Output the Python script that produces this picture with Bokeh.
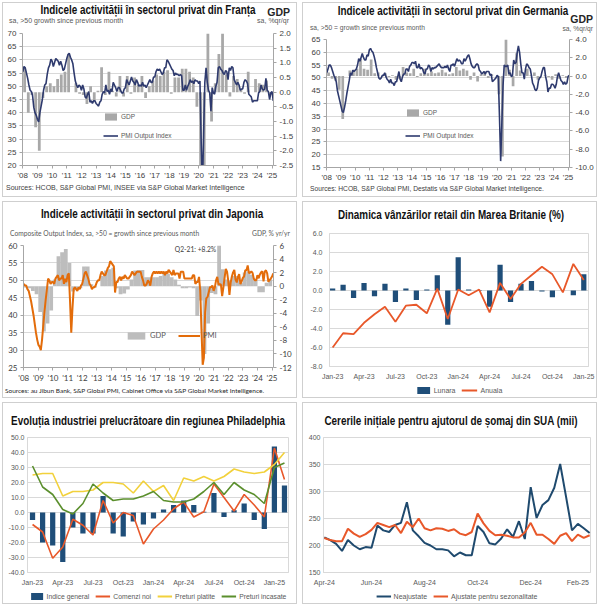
import html
import pandas as pd
from bokeh.plotting import figure
from bokeh.models import (Range1d, LinearAxis, FixedTicker, SingleIntervalTicker, Label,
                          Legend, LegendItem, NumeralTickFormatter, DatetimeTickFormatter, Div)
from bokeh.layouts import column, row
from bokeh.embed import file_html
from bokeh.resources import INLINE

# ---------------------------------------------------------------- data
year_ticks = list(range(2008, 2026))
year_labels = ["'08", "'09", "'10", "'11", "'12", "'13", "'14", "'15", "'16",
               "'17", "'18", "'19", "'20", "'21", "'22", "'23", "'24", "'25"]

# France: PMI output index (monthly, Jan-2008 .. Feb-2025), GDP q/q % (quarterly)
fr_pmi = [
    55.5, 57.5, 57.0, 55.0, 53.0, 50.5, 48.5, 48.0, 46.5, 42.0, 40.0, 39.0,
    37.5, 36.5, 40.0, 42.5, 45.0, 48.5, 50.5, 51.0, 54.5, 57.0, 58.0, 60.3,
    59.5, 57.5, 59.0, 60.5, 60.0, 59.5, 58.0, 59.5, 58.0, 56.0, 56.5, 58.5,
    60.5, 62.0, 62.5, 61.0, 60.0, 58.5, 55.0, 52.0, 50.5, 49.5, 50.5, 50.0,
    48.5, 50.5, 49.0, 46.0, 45.5, 47.0, 48.0, 44.0, 44.5, 43.5, 44.5, 44.5,
    43.5, 43.0, 42.5, 44.0, 44.5, 47.0, 48.0, 47.5, 50.5, 48.0, 48.5, 47.0,
    49.0, 48.0, 51.5, 50.5, 49.5, 48.0, 49.5, 49.5, 48.5, 47.5, 47.5, 49.0,
    49.5, 52.5, 51.5, 50.5, 52.0, 53.5, 52.0, 51.5, 50.5, 52.5, 51.5, 50.0,
    50.5, 50.0, 51.5, 50.0, 50.5, 49.5, 50.5, 51.5, 52.5, 51.5, 51.5, 53.5,
    53.5, 55.5, 56.5, 56.0, 56.5, 55.5, 54.5, 55.0, 57.0, 57.0, 60.0, 59.5,
    58.5, 57.5, 56.5, 56.0, 54.0, 55.0, 54.5, 54.5, 54.0, 54.5, 54.0, 48.5,
    48.5, 50.5, 48.5, 50.0, 51.0, 52.5, 51.5, 52.0, 51.0, 52.5, 52.0, 52.0,
    51.0, 52.0, 29.0, 11.1, 32.0, 51.5, 57.0, 51.5, 48.5, 47.5, 40.6, 49.5,
    47.5, 47.0, 50.0, 51.5, 57.0, 57.5, 56.5, 56.0, 55.0, 54.5, 56.0, 55.5,
    52.5, 57.0, 56.0, 57.5, 57.0, 52.5, 51.5, 50.5, 51.5, 50.5, 48.5, 49.0,
    49.0, 51.5, 52.5, 52.0, 51.0, 47.0, 46.5, 46.0, 44.0, 44.5, 44.5, 44.5,
    44.5, 47.5, 48.0, 50.5, 49.0, 48.5, 49.0, 53.0, 48.5, 48.0, 45.0, 47.5,
    48.0, 44.5]
fr_gdp = [
    0.85, -0.7, -0.1, -1.2, -2.0, -0.2, 0.2, 0.3, 0.2, 0.45, 0.6, 0.7,
    1.3, 0.0, 0.3, -0.05, -0.1, -0.4, 0.2, -0.3, 0.05, 0.85, -0.1, 0.7,
    0.05, -0.15, 0.55, -0.15, 0.55, -0.05, 0.5, 0.25, 0.55, -0.2, 0.2, 0.4,
    0.6, 0.55, 0.7, 0.75, -0.05, 0.5, 0.5, 0.8, 0.8, 0.7, 0.5, -0.5,
    -5.4, -13.2, 18.5, -1.0, 0.3, 1.3, 2.6, 0.6, -0.15, 0.55, 0.45, 0.1,
    -0.05, 0.7, 0.0, 0.45, 0.3, 0.25, 0.4, -0.1]

# Germany
de_pmi = [
    52.0, 53.5, 55.0, 55.0, 54.0, 52.5, 51.0, 50.0, 48.5, 45.0, 43.0, 41.0,
    39.0, 37.0, 36.5, 38.5, 41.0, 44.0, 46.5, 49.0, 52.0, 51.0, 53.0, 52.5,
    53.0, 53.5, 55.0, 57.5, 56.5, 58.0, 59.5, 58.0, 57.0, 57.0, 59.0, 58.5,
    61.0, 61.5, 60.5, 60.0, 58.5, 56.5, 54.0, 52.0, 50.0, 49.5, 50.0, 51.0,
    51.0, 52.0, 50.5, 49.5, 49.0, 48.0, 49.5, 48.0, 48.0, 47.0, 48.5, 48.5,
    50.5, 52.5, 49.5, 48.5, 50.5, 51.5, 51.5, 53.5, 53.5, 52.5, 54.5, 55.0,
    56.0, 56.0, 55.5, 56.5, 54.0, 54.0, 55.5, 53.5, 54.0, 53.5, 52.0, 51.5,
    53.5, 53.5, 55.0, 54.5, 52.5, 54.0, 53.5, 54.0, 54.0, 54.5, 55.0, 55.5,
    54.5, 54.0, 54.0, 54.0, 54.5, 54.0, 55.0, 53.5, 52.5, 55.0, 55.0, 55.5,
    54.5, 56.0, 57.5, 56.5, 57.0, 56.5, 55.5, 55.5, 57.5, 56.5, 57.5, 58.5,
    59.0, 57.5, 55.5, 54.5, 54.0, 54.0, 55.0, 55.5, 55.0, 53.0, 52.5, 51.5,
    52.0, 52.5, 51.5, 52.5, 52.5, 52.5, 51.0, 51.5, 48.5, 49.0, 49.5, 50.0,
    51.0, 50.5, 35.0, 17.5, 32.0, 47.0, 55.0, 54.5, 54.5, 55.0, 51.5, 52.0,
    50.5, 51.0, 57.0, 55.5, 56.0, 60.0, 62.5, 60.0, 55.5, 52.0, 52.0, 49.5,
    53.5, 55.5, 55.0, 54.0, 53.5, 51.0, 48.0, 47.0, 45.5, 45.0, 46.0, 49.0,
    50.0, 50.5, 52.5, 54.0, 54.0, 50.5, 48.5, 44.5, 46.0, 46.0, 47.5, 47.5,
    47.0, 46.0, 47.5, 50.5, 52.0, 50.5, 49.0, 48.5, 47.5, 48.5, 47.5, 48.0,
    50.5, 51.0]
de_gdp = [
    0.4, -0.3, -0.5, -1.5, -4.7, 0.0, 0.6, 0.7, 0.8, 1.9, 0.8, 0.7,
    1.8, 0.3, 0.4, 0.0, 0.3, -0.1, 0.1, -0.4, -0.3, 1.0, 0.4, 0.3,
    0.8, -0.1, 0.3, 0.8, 0.3, 0.5, 0.3, 0.4, 0.7, 0.4, 0.2, 0.3,
    1.0, 0.6, 0.8, 0.6, -0.4, 0.4, -0.6, 0.2, 0.5, -0.2, 0.2, 0.0,
    -2.0, -8.8, 8.5, 0.7, -1.1, 2.5, 0.6, 0.0, 0.8, 0.1, 0.4, -0.4,
    0.0, 0.1, -0.1, -0.4, 0.2, -0.3, 0.1, -0.2]

# Japan
jp_pmi = [
    49.0, 48.5, 48.5, 47.5, 47.0, 45.5, 44.0, 42.0, 40.0, 37.5, 35.0, 33.0,
    31.5, 31.0, 30.0, 33.0, 37.0, 41.0, 44.5, 47.5, 50.5, 50.0, 49.0, 49.5,
    49.5, 49.0, 50.5, 51.0, 51.5, 50.0, 50.5, 50.5, 51.5, 49.0, 50.5, 49.5,
    51.5, 52.0, 44.0, 35.0, 42.0, 47.5, 48.0, 47.5, 47.0, 48.0, 47.5, 48.5,
    49.0, 50.5, 52.0, 52.5, 51.5, 50.5, 49.0, 48.5, 47.5, 48.0, 48.0, 48.5,
    49.5, 50.0, 50.0, 51.5, 52.5, 52.0, 51.5, 51.5, 52.5, 53.5, 54.0, 55.5,
    55.0, 54.5, 54.0, 46.5, 49.5, 49.5, 50.5, 51.0, 50.0, 51.0, 50.5, 51.5,
    51.0, 50.5, 50.5, 51.0, 51.5, 52.5, 52.0, 51.5, 52.0, 52.5, 52.5, 52.5,
    52.5, 51.0, 50.0, 48.5, 48.5, 49.0, 50.0, 49.5, 48.5, 51.0, 52.0, 52.5,
    52.0, 52.5, 52.0, 52.5, 52.0, 52.5, 52.0, 52.5, 51.5, 52.5, 52.0, 53.0,
    52.5, 52.0, 51.5, 53.0, 51.5, 52.0, 52.0, 52.0, 50.5, 52.5, 52.5, 52.5,
    50.5, 50.5, 50.5, 50.5, 50.5, 50.5, 50.5, 51.5, 51.5, 49.0, 49.5, 49.5,
    51.0, 47.0, 36.0, 25.8, 27.8, 40.8, 44.9, 45.2, 46.6, 48.0, 48.1, 48.5,
    47.0, 48.0, 50.0, 51.0, 48.8, 48.9, 48.8, 45.5, 47.9, 50.7, 53.3, 52.5,
    49.9, 45.8, 49.4, 51.1, 52.3, 53.0, 50.2, 49.4, 51.0, 51.8, 48.9, 49.7,
    50.7, 51.1, 52.9, 52.9, 54.3, 52.1, 52.2, 52.6, 52.1, 50.5, 50.0, 50.0,
    51.5, 50.6, 51.7, 52.3, 52.6, 49.7, 52.5, 52.9, 52.0, 49.6, 50.1, 50.5,
    51.1, 52.0]
jp_gdp = [
    -0.2, -0.3, -0.7, -1.2, -3.8, -6.7, -5.5, -3.6, 1.0, 4.4, 5.0, 5.5,
    3.4, -0.8, -0.5, -0.3, 2.9, 2.9, 0.3, -0.2, 0.0, 1.5, 2.3, 2.5,
    2.7, -0.3, -1.2, -1.1, -0.5, 1.0, 2.3, 2.4, 2.4, 1.3, 1.3, 1.3,
    1.3, 1.5, 1.8, 1.8, 1.3, 1.0, 0.2, -0.3, -0.3, -0.2, -0.3, -4.4,
    -2.1, -10.0, -5.5, -1.0, -1.2, 8.2, 2.5, 1.0, 0.8, 1.5, 1.5, 0.5,
    2.0, 2.2, 1.7, 1.0, -0.9, -0.9, 0.5, 1.0]

# UK retail sales (%)
uk_months = ["Jan-23", "Feb-23", "Mar-23", "Apr-23", "May-23", "Jun-23", "Jul-23",
             "Aug-23", "Sep-23", "Oct-23", "Nov-23", "Dec-23", "Jan-24", "Feb-24",
             "Mar-24", "Apr-24", "May-24", "Jun-24", "Jul-24", "Aug-24", "Sep-24",
             "Oct-24", "Nov-24", "Dec-24", "Jan-25"]
uk_lunara = [0.2, 0.6, -0.8, 0.8, -0.6, 0.7, -1.2, 0.2, -1.0, 0.1, 1.6, -3.6, 3.5,
             0.1, 0.05, -1.7, 2.7, -1.2, 0.7, 1.0, -0.1, -0.7, 0.0, -0.5, 1.7]
uk_anuala = [-6.0, -4.5, -4.6, -3.4, -2.5, -1.7, -3.3, -1.6, -1.5, -2.4, 0.2, -3.0, 0.1,
             -0.5, 0.1, -2.3, 0.8, -0.9, 0.7, 1.6, 2.5, 1.7, -0.2, 2.8, 1.1]

# Philadelphia Fed manufacturing survey
ph_months = ["Jan-23", "Feb-23", "Mar-23", "Apr-23", "May-23", "Jun-23", "Jul-23",
             "Aug-23", "Sep-23", "Oct-23", "Nov-23", "Dec-23", "Jan-24", "Feb-24",
             "Mar-24", "Apr-24", "May-24", "Jun-24", "Jul-24", "Aug-24", "Sep-24",
             "Oct-24", "Nov-24", "Dec-24", "Jan-25", "Feb-25"]
ph_general = [-5, -20, -22, -33, -10, -14, -14, 11, -14, -16, -6, -8, -4, 2, 5, 8,
              5, 0.5, 13, -3, 1.5, 6, -5, -11, 44, 18]
ph_new_orders = [-8, -13, -30.5, -23, -4.5, -8.5, -15, 8, -7, 0, -2, -21, -11, -5, 2.5,
                 7, -3, 0.5, 19, 10, 1, 12, 5, -3, 43, 22]
ph_prices_paid = [25, 26, 26, 11, 14, 14, 15, 20, 20, 19, 13, 21, 14, 18, 8, 23, 21,
                  24, 21, 24, 29, 27, 26, 27, 32, 40]
ph_prices_received = [31, 17, 12, 2, -1, 6, 19, 13, 8, 9, 9, 11, 14, 8, 7, 7, 9, 14,
                      20, 12, 20, 15, 12, 6, 30, 33]

# US initial jobless claims (thousands, weekly)
claims_start = "2024-04-06"
claims_nsa = [215, 210, 203, 190, 210, 200, 193, 197, 196, 237, 228, 225, 238, 242,
              280, 228, 217, 205, 200, 193, 193, 191, 180, 187, 182, 182, 236, 225,
              204, 202, 213, 230, 216, 245, 212, 308, 251, 275, 284, 307, 351, 290,
              228, 240, 232, 223]
claims_sa = [214, 210, 208, 208, 231, 222, 216, 221, 229, 242, 238, 234, 238, 223,
             244, 234, 250, 232, 228, 232, 231, 227, 230, 222, 219, 225, 259, 241,
             227, 219, 220, 218, 215, 215, 224, 242, 220, 220, 212, 203, 218, 223,
             208, 220, 214, 219]
claims_tick_dates = ["2024-04-06", "2024-06-01", "2024-08-03", "2024-10-05",
                     "2024-12-07", "2025-02-01"]

# ---------------------------------------------------------------- style
TITLE_FONT = "'Liberation Sans',Arial,sans-serif"
BODY_FONT = "Liberation Sans"
JP_FONT = "Lato"
TXT_GREY = "#595959"
TXT_DARK = "#262626"
TICK_DARK = "#404040"
GRID = "#d9d9d9"
AXIS = "#a6a6a6"
PMI_BLUE = "#2e3a6e"
GDP_GREY = "#a8a8a8"
JP_ORANGE = "#e36c0a"
JP_GREY = "#bdbdbd"
NAVY = "#1f4e79"
ORANGE = "#e8582a"
YELLOW = "#f2d13c"
GREEN = "#5b8f2d"
CLAIMS_BLUE = "#1f4a6e"
PANEL_W = 293


def month_positions(n, start=2008):
    dates = pd.date_range(f"{start}-01-01", periods=n, freq="MS")
    return [d.year + (d.month - 1) / 12 for d in dates]


def quarter_positions(n, start=2008):
    dates = pd.date_range(f"{start}-01-01", periods=n, freq="QS")
    return [d.year + (d.month - 1) / 12 + 0.125 for d in dates]


def text_div(h, items):
    spans = []
    for it in items:
        text, x, y, size = it["text"], it["x"], it["y"], it["size"]
        font = it.get("font", f"'{BODY_FONT}',sans-serif")
        weight = "bold" if it.get("bold") else "normal"
        color = it.get("color", TXT_GREY)
        tx = {"left": "0", "center": "-50%", "right": "-100%"}[it.get("align", "left")]
        extra = it.get("extra", "")
        spans.append(
            f'<span style="position:absolute;left:{x}px;top:{y}px;transform:translate({tx},-50%){extra};'
            f'white-space:nowrap;font-family:{font};font-size:{size}px;font-weight:{weight};'
            f'color:{color};line-height:1.15;">{html.escape(text)}</span>')
    body = (f'<div style="position:relative;width:{PANEL_W}px;height:{h}px;margin:0;padding:0;">'
            + "".join(spans) + "</div>")
    return Div(text=body, width=PANEL_W, height=h,
               styles={"margin": "0", "padding": "0", "overflow": "visible"})


def title_item(text, x, y, size=12.5, squeeze=0.79):
    return dict(text=text, x=x, y=y, size=size, font=TITLE_FONT, bold=True,
                color="#111111", align="center", extra=f" scaleX({squeeze})")


def make_fig(h, l, r, t, b, x_range, y_range, **kw):
    p = figure(width=PANEL_W, height=h, x_range=x_range, y_range=y_range, output_backend="svg",
               toolbar_location=None, min_border_left=l, min_border_right=r,
               min_border_top=t, min_border_bottom=b, **kw)
    p.outline_line_color = GRID
    p.xgrid.grid_line_color = None
    p.ygrid.grid_line_color = GRID
    p.background_fill_color = "white"
    p.border_fill_color = "white"
    return p, PANEL_W - l - r, h - t - b


def style_axis(ax, font=BODY_FONT, size="8px", line=AXIS, ticks=True, color=TICK_DARK):
    ax.axis_line_color = line
    ax.major_tick_line_color = line if ticks else None
    ax.major_tick_out = 3 if ticks else 0
    ax.major_tick_in = 0
    ax.minor_tick_line_color = None
    ax.major_label_text_font = font
    ax.major_label_text_font_size = size
    ax.major_label_text_color = color
    ax.major_label_standoff = 3


def legend(items, loc, horizontal=False, font=BODY_FONT, size="6.5px", spacing=8,
           glyph_w=15, glyph_h=9):
    return Legend(items=items, location=loc,
                  orientation="horizontal" if horizontal else "vertical",
                  background_fill_alpha=0, border_line_color=None, padding=0,
                  margin=0, spacing=spacing, glyph_width=glyph_w, glyph_height=glyph_h,
                  label_height=glyph_h, label_standoff=3, label_text_font=font,
                  label_text_font_size=size, label_text_color=TXT_GREY)


def legend_fig(h, entries, spacing, size="7px", glyph_w=15):
    """A thin strip below a chart that carries its legend.  The proxy renderers repeat the
    chart's own series, but on a y range that lies far away from them, so only the legend shows."""
    lp = figure(width=PANEL_W, height=h, output_backend="svg", toolbar_location=None,
                x_axis_location=None, y_axis_location=None, min_border=0,
                x_range=Range1d(0, 1), y_range=Range1d(1e6, 1e6 + 1))
    lp.outline_line_color = None
    lp.xgrid.visible = False
    lp.ygrid.visible = False
    items = []
    for label, kind, color, xs, ys in entries:
        if kind == "bar":
            r = lp.vbar(x=xs, top=ys, width=0.5, fill_color=color, line_color=None)
        else:
            r = lp.line(x=xs, y=ys, color=color, line_width=2)
        items.append(LegendItem(label=label, renderers=[r]))
    lp.add_layout(legend(items, "center", horizontal=True, size=size, spacing=spacing,
                         glyph_w=glyph_w))
    return lp


def pmi_fig(dims, pmi, gdp, y_lo, y_hi, g_lo, g_hi, g_step, g_fmt, line_color,
            bar_color, bar_w, line_w, font):
    h, l, r, t, b = dims
    p, fw, fh = make_fig(h, l, r, t, b, Range1d(2007.98, 2025.1), Range1d(y_lo, y_hi))
    p.outline_line_color = None
    p.extra_y_ranges = {"gdp": Range1d(g_lo, g_hi)}
    bars = p.vbar(x=quarter_positions(len(gdp)), top=gdp, width=bar_w, y_range_name="gdp",
                  fill_color=bar_color, line_color=None)
    line = p.line(month_positions(len(pmi)), pmi, color=line_color, line_width=line_w)
    p.yaxis.ticker = SingleIntervalTicker(interval=5, num_minor_ticks=0)
    style_axis(p.yaxis[0], font=font)
    right = LinearAxis(y_range_name="gdp",
                       ticker=SingleIntervalTicker(interval=g_step, num_minor_ticks=0),
                       formatter=NumeralTickFormatter(format=g_fmt))
    style_axis(right, font=font)
    p.add_layout(right, "right")
    p.xaxis.ticker = FixedTicker(ticks=year_ticks)
    p.xaxis.major_label_overrides = dict(zip(year_ticks, year_labels))
    style_axis(p.xaxis[0], font=font)
    p.xaxis.major_label_standoff = 2
    return p, fw, fh, bars, line


def small_axes(p, x_ticks, x_labels=None):
    style_axis(p.yaxis[0], size="7px", line=GRID, ticks=False, color=TXT_GREY)
    p.xaxis.ticker = FixedTicker(ticks=x_ticks)
    if x_labels is not None:
        p.xaxis.major_label_overrides = x_labels
    style_axis(p.xaxis[0], size="7px", line=GRID, ticks=False, color=TXT_GREY)
    p.xaxis.major_label_standoff = 6


def panel(children):
    return column(*children, spacing=0, styles={"border": "1px solid #cfcfcf"})


# ---------------------------------------------------------------- panel 1: France
p1, fw, fh, b1, l1 = pmi_fig((154, 19, 23, 5, 16), fr_pmi, fr_gdp, 20, 70, -2.5, 2.0,
                             0.5, "0.0", PMI_BLUE, GDP_GREY, 0.19, 1.6, BODY_FONT)
p1.add_layout(legend([LegendItem(label="GDP", renderers=[b1]),
                      LegendItem(label="PMI Output Index", renderers=[l1])], (81, 25), spacing=10))
h1 = text_div(25, [
    title_item("Indicele activității în sectorul privat din Franța", 145, 7),
    dict(text="GDP", x=287, y=9, size=10.5, bold=True, color=TXT_DARK, align="right"),
    dict(text="sa, >50 growth since previous month", x=6, y=18, size=7),
    dict(text="sa, %qr/qr", x=286, y=18, size=7, align="right"),
])
f1 = text_div(14, [dict(text="Sources: HCOB, S&P Global PMI, INSEE via S&P Global Market Intelligence",
                        x=3, y=6, size=7, color="#404040")])
c1 = panel([h1, p1, f1])

# ---------------------------------------------------------------- panel 2: Germany
p2, fw, fh, b2, l2 = pmi_fig((150, 23, 24, 5, 16), de_pmi, de_gdp, 15, 65, -10, 4,
                             2, "0.0", PMI_BLUE, GDP_GREY, 0.19, 1.6, BODY_FONT)
p2.add_layout(legend([LegendItem(label="GDP", renderers=[b2]),
                      LegendItem(label="PMI Output Index", renderers=[l2])], (79, 27), spacing=14))
h2 = text_div(31, [
    title_item("Indicele activității în sectorul privat din Germania", 150, 8),
    dict(text="GDP", x=290, y=16, size=10.5, bold=True, color=TXT_DARK, align="right"),
    dict(text="sa, >50 = growth since previous month", x=7, y=25, size=6.7),
    dict(text="sa, %qr/qr", x=290, y=26, size=6.7, align="right"),
])
f2 = text_div(12, [dict(text="Sources: HCOB, S&P Global PMI, Destatis via S&P Global Market Intelligence.",
                        x=7, y=5, size=6.7, color="#404040")])
c2 = panel([h2, p2, f2])

# ---------------------------------------------------------------- panel 3: Japan
p3, fw, fh, b3, l3 = pmi_fig((145, 20, 23, 5, 16), jp_pmi, jp_gdp, 25, 60, -12, 6,
                             2, "0", JP_ORANGE, JP_GREY, 0.26, 2.0, JP_FONT)
p3.add_layout(Label(x=172, y=fh - 5, x_units="screen", y_units="screen", text="Q2-21: +8.2%",
                    text_font=JP_FONT, text_font_size="6.7px", text_color="#404040",
                    text_align="center", text_baseline="middle"))
p3.add_layout(legend([LegendItem(label="GDP", renderers=[b3]),
                      LegendItem(label="PMI", renderers=[l3])], (102, 27), horizontal=True,
                     font=JP_FONT, size="7.5px", spacing=8, glyph_w=22))
h3 = text_div(38, [
    title_item("Indicele activității în sectorul privat din Japonia", 149, 12),
    dict(text="Composite Output Index, sa, >50 = growth since previous month", x=7, y=32,
         size=6.7, font=f"'{JP_FONT}',sans-serif"),
    dict(text="GDP, % yr/yr", x=287, y=32, size=6.7, font=f"'{JP_FONT}',sans-serif", align="right"),
])
f3 = text_div(12, [dict(text="Sources: au Jibun Bank, S&P Global PMI, Cabinet Office via S&P Global Market Intelligence.",
                        x=2, y=6, size=6.5, font=f"'{JP_FONT}',sans-serif", color=TXT_DARK)])
c3 = panel([h3, p3, f3])

# ---------------------------------------------------------------- panel 4: UK retail
uk_x = list(range(len(uk_months)))
p4, fw, fh = make_fig(155, 26, 8, 5, 17, Range1d(-0.3, 24.45), Range1d(-8, 6))
p4.vbar(x=uk_x, top=uk_lunara, width=0.5, fill_color=NAVY, line_color=None)
p4.line(uk_x, uk_anuala, color=ORANGE, line_width=1.8)
p4.yaxis.ticker = SingleIntervalTicker(interval=2, num_minor_ticks=0)
p4.yaxis.formatter = NumeralTickFormatter(format="0.0")
small_axes(p4, uk_x[::3], {i: uk_months[i] for i in uk_x[::3]})
p4.yaxis.major_label_standoff = 7
h4 = text_div(26, [title_item("Dinamica vânzărilor retail din Marea Britanie (%)", 148, 13)])
lg4 = legend_fig(14, [("Lunara", "bar", NAVY, uk_x, uk_lunara),
                      ("Anuala", "line", ORANGE, uk_x, uk_anuala)], spacing=6, glyph_w=16)
c4 = panel([h4, p4, lg4])

# ---------------------------------------------------------------- panel 5: Philadelphia
ph_x = list(range(len(ph_months)))
p5, fw, fh = make_fig(157, 24, 8, 5, 17, Range1d(-0.5, 25.4), Range1d(-40, 50))
p5.vbar(x=ph_x, top=ph_general, width=0.52, fill_color=NAVY, line_color=None)
p5.line(ph_x, ph_new_orders, color=ORANGE, line_width=1.6)
p5.line(ph_x, ph_prices_paid, color=YELLOW, line_width=1.6)
p5.line(ph_x, ph_prices_received, color=GREEN, line_width=1.6)
p5.yaxis.ticker = SingleIntervalTicker(interval=10, num_minor_ticks=0)
p5.yaxis.formatter = NumeralTickFormatter(format="0.0")
small_axes(p5, ph_x[::3], {i: ph_months[i] for i in ph_x[::3]})
h5 = text_div(29, [title_item("Evoluția industriei prelucrătoare din regiunea Philadelphia", 145, 18)])
lg5 = legend_fig(14, [("Indice general", "bar", NAVY, ph_x, ph_general),
                      ("Comenzi noi", "line", ORANGE, ph_x, ph_new_orders),
                      ("Preturi platite", "line", YELLOW, ph_x, ph_prices_paid),
                      ("Preturi incasate", "line", GREEN, ph_x, ph_prices_received)],
                 spacing=6, size="6.8px")
c5 = panel([h5, p5, lg5])

# ---------------------------------------------------------------- panel 6: jobless claims
cl_dates = pd.date_range(claims_start, periods=len(claims_nsa), freq="7D")
p6, fw, fh = make_fig(157, 20, 6, 5, 17,
                      Range1d(cl_dates[0] - pd.Timedelta(days=1), cl_dates[-1] + pd.Timedelta(days=1)),
                      Range1d(150, 400), x_axis_type="datetime")
p6.line(cl_dates, claims_nsa, color=CLAIMS_BLUE, line_width=2.0)
p6.line(cl_dates, claims_sa, color=ORANGE, line_width=2.0)
p6.yaxis.ticker = SingleIntervalTicker(interval=50, num_minor_ticks=0)
fmt = "%b-%y"
p6.xaxis.formatter = DatetimeTickFormatter(days=fmt, months=fmt, years=fmt, hours=fmt,
                                           minutes=fmt, seconds=fmt, milliseconds=fmt,
                                           microseconds=fmt, minsec=fmt, hourmin=fmt)
small_axes(p6, [pd.Timestamp(d).value / 1e6 for d in claims_tick_dates])
h6 = text_div(29, [title_item("Cererile inițiale pentru ajutorul de șomaj din SUA (mii)", 148, 18)])
cl_idx = list(range(len(claims_nsa)))
lg6 = legend_fig(14, [("Neajustate", "line", CLAIMS_BLUE, cl_idx, claims_nsa),
                      ("Ajustate pentru sezonalitate", "line", ORANGE, cl_idx, claims_sa)],
                 spacing=6)
c6 = panel([h6, p6, lg6])

layout = column(row(c1, c2, spacing=5), row(c3, c4, spacing=5), row(c5, c6, spacing=5),
                spacing=4, margin=(2, 0, 0, 2))

open("out.html", "w").write(file_html(layout, INLINE))
